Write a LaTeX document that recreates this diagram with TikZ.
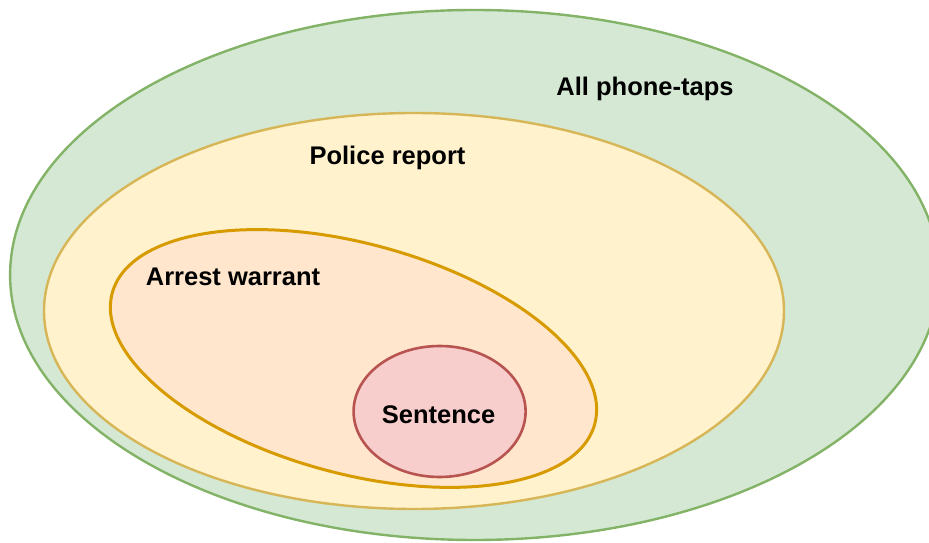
\documentclass[tikz,border=0pt]{standalone}
\usepackage{fontspec}
\setmainfont{Liberation Sans}
\usepackage{tikz}
\usetikzlibrary{shapes.geometric}

\definecolor{tapfill}{HTML}{D5E8D4}
\definecolor{tapline}{HTML}{82B366}
\definecolor{reportfill}{HTML}{FFF2CC}
\definecolor{reportline}{HTML}{D6B656}
\definecolor{warrantfill}{HTML}{FFE6CC}
\definecolor{warrantline}{HTML}{D79B00}
\definecolor{sentencefill}{HTML}{F8CECC}
\definecolor{sentenceline}{HTML}{B85450}

\begin{document}
\begin{tikzpicture}[x=1pt,y=1pt,
    set/.style={ellipse, inner sep=0pt, outer sep=0pt, line width=2.4pt},
    label/.style={font=\fontsize{25.5}{30}\selectfont\bfseries, inner sep=0pt}]
\clip (0,0) rectangle (929,543);
\node [set, draw=tapline, fill=tapfill, minimum width=929pt, minimum height=530pt] (alltaps) at (474.6,268) {};
\node [set, draw=reportline, fill=reportfill, minimum width=740pt, minimum height=396pt] (report) at (414,232) {};
\node [set, draw=warrantline, fill=warrantfill, line width=3pt, minimum width=500pt, minimum height=230pt, rotate=-15.2] (warrant) at (353.5,184.5) {};
\node [set, draw=sentenceline, fill=sentencefill, line width=2.6pt, minimum width=172pt, minimum height=131pt] (sentence) at (439.6,131.5) {};
\node [label] (alltapstext) at (645,454) {All phone-taps};
\node [label] (reporttext) at (387.5,385.5) {Police report};
\node [label] (warranttext) at (233,266) {Arrest warrant};
\node [label] (sentencetext) at (438.5,128.5) {Sentence};
\end{tikzpicture}
\end{document}
